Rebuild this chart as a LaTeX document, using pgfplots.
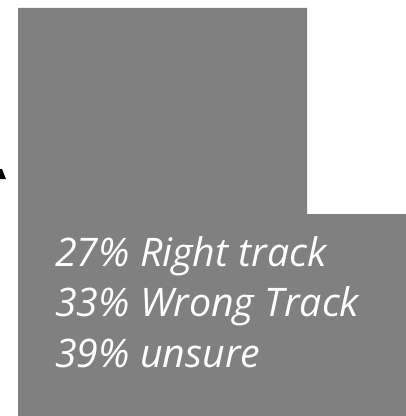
\documentclass[border=0pt]{standalone}
\usepackage{pgfplots}
\pgfplotsset{compat=1.18}
\usepackage{fontspec}
\setmainfont{Open Sans}
\definecolor{boxgray}{RGB}{128,128,128}
\begin{document}
\begin{tikzpicture}
\begin{axis}[
  scale only axis, width=406bp, height=416bp,
  xmin=0, xmax=406, ymin=0, ymax=416, y dir=reverse,
  hide axis, clip=false,
]
\addplot[fill=boxgray, draw=none] coordinates {(18,8) (307,8) (307,214) (406,214) (406,416) (18,416)} -- cycle;
\addplot[fill=black, draw=none] coordinates {(0,169) (2,169) (6,179) (0,179)} -- cycle;
\path (axis cs:0,0) (axis cs:406,416);
\node[anchor=base west, inner sep=0pt, text=white, font=\fontsize{39.5}{39.5}\selectfont\itshape] at (axis cs:55,266) {27\% Right track};
\node[anchor=base west, inner sep=0pt, text=white, font=\fontsize{39.5}{39.5}\selectfont\itshape] at (axis cs:55,316) {33\% Wrong Track};
\node[anchor=base west, inner sep=0pt, text=white, font=\fontsize{39.5}{39.5}\selectfont\itshape] at (axis cs:55,367) {39\% unsure};
\end{axis}
\end{tikzpicture}
\end{document}
